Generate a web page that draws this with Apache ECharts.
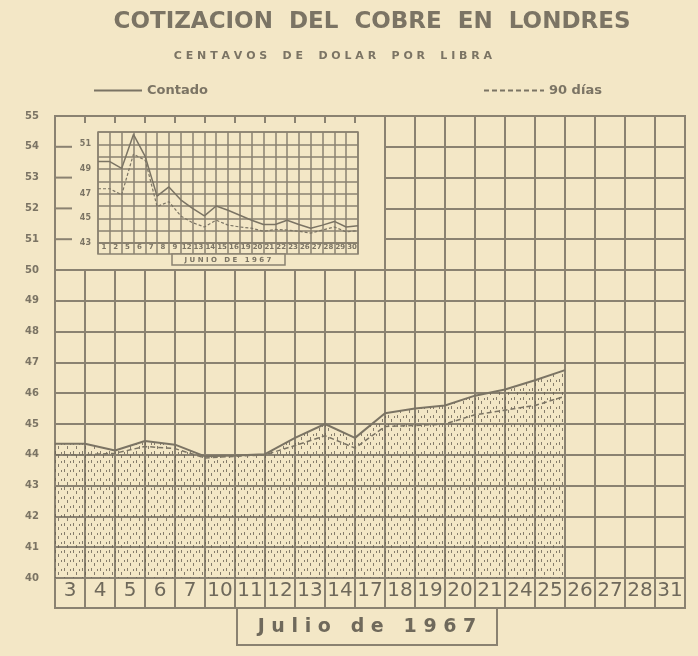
<!DOCTYPE html>
<html>
<head>
	<meta charset="utf-8" />
	<script src="https://cdn.jsdelivr.net/npm/echarts@6/dist/echarts.min.js"></script>
</head>
<body style="margin:0">
	<div id="main" style="width: 698px;height:656px;"></div>

	<script type="text/javascript">
		// julio 1967 (grafico principal)
		var julyDays = ['3', '4', '5', '6', '7', '10', '11', '12', '13', '14', '17', '18', '19', '20', '21', '24', '25', '26', '27', '28', '31'];
		var julyContado = [44.36, 44.14, 44.45, 44.33, 43.95, 43.98, 44.02, 44.55, 45.0, 44.55, 45.35, 45.5, 45.6, 45.92, 46.12, 46.42, 46.75];
		var julyNoventa = [44.0, 44.05, 44.27, 44.2, 43.9, 43.95, 44.0, 44.3, 44.62, 44.22, 44.92, 44.95, 45.0, 45.3, 45.45, 45.6, 45.9];

		// junio 1967 (recuadro)
		var juneDays = ['1', '2', '5', '6', '7', '8', '9', '12', '13', '14', '15', '16', '19', '20', '21', '22', '23', '26', '27', '28', '29', '30'];
		var juneContado = [49.6, 49.05, 51.8, 50.0, 46.8, 47.55, 46.5, 45.8, 45.2, 46.0, 45.65, 45.25, 44.85, 44.5, 44.5, 44.85, 44.5, 44.2, 44.45, 44.75, 44.3, 44.4];
		var juneNoventa = [47.4, 46.9, 50.2, 49.7, 45.95, 46.35, 45.2, 44.65, 44.3, 44.85, 44.45, 44.3, 44.2, 43.95, 44.1, 44.05, 43.95, 43.8, 44.05, 44.3, 43.9, 44.0];

		var BG = '#f3e7c6';
		var INK = '#7b7464';
		var LINE = '#8a8271';

		// the print puts each quote on the right edge of its day cell; line starts flat in the first cell
		function steps(vals) {
			var out = [[0, vals[0]]];
			vals.forEach(function (v, i) { out.push([i + 1, v]); });
			return out;
		}

		function dots() {
			var c = document.createElement('canvas');
			c.width = 9; c.height = 9;
			var g = c.getContext('2d');
			g.fillStyle = 'rgba(105,98,84,0.8)';
			g.fillRect(1, 1, 1, 3);
			g.fillRect(4, 5, 1, 3);
			g.fillRect(7, 2, 1, 2);
			return c;
		}

		// layout
		var gx = 55, gy = 116, gw = 630, gh = 462;
		var colW = gw / julyDays.length, rowH = gh / 15;
		var ix = 98, iy = 132, iw = 260, ih = 111;
		var boxCols = 11, boxRows = 5;   // the inset box hides this much of the main grid

		var legendText = { color: INK, fontWeight: 'bold', fontSize: 13, fontFamily: 'DejaVu Sans' };
		var thick = { show: true, interval: 0, lineStyle: { color: LINE, width: 2 } };
		var thin = { show: true, interval: 0, lineStyle: { color: LINE, width: 1.5 } };
		var off = { show: false };

		// main-grid stubs left showing along the top and left edge of the inset box
		var stubs = [];
		for (var k = 1; k < boxCols; k++) {
			stubs.push({ type: 'line', z: 6, shape: { x1: gx + k * colW, y1: gy, x2: gx + k * colW, y2: gy + 7 }, style: { stroke: LINE, lineWidth: 2 } });
		}
		for (var r = 1; r < boxRows; r++) {
			stubs.push({ type: 'line', z: 6, shape: { x1: gx, y1: gy + r * rowH, x2: gx + 17, y2: gy + r * rowH }, style: { stroke: LINE, lineWidth: 2 } });
		}

		var myChart = echarts.init(document.getElementById('main'));

		// zlevel 1 = the inset chart, drawn above its blank box
		var option = {
			backgroundColor: BG,
			animation: false,
			legend: [
				{ data: ['Contado'], left: 88, top: 79, itemWidth: 48, itemHeight: 10, itemStyle: { opacity: 0 }, textStyle: legendText },
				{ data: ['90 días'], left: 478, top: 79, itemWidth: 60, itemHeight: 10, itemStyle: { opacity: 0 }, textStyle: legendText }
			],
			grid: [
				{ left: gx, top: gy, width: gw, height: gh, show: true, borderColor: LINE, borderWidth: 2 },
				{ left: gx, top: gy + gh, width: gw, height: 30, show: true, borderColor: LINE, borderWidth: 2 },
				{ left: ix, top: iy, width: iw, height: ih, show: true, borderColor: LINE, borderWidth: 1.5, zlevel: 1 },
				{ left: ix, top: iy + ih, width: iw, height: 11, show: true, borderColor: LINE, borderWidth: 1.5, zlevel: 1 }
			],
			xAxis: [
				{ type: 'category', gridIndex: 0, data: julyDays, boundaryGap: true, axisLine: off, axisTick: off, axisLabel: off, splitLine: thick },
				{ type: 'value', gridIndex: 0, min: 0, max: julyDays.length, show: false },
				{ type: 'category', gridIndex: 1, data: julyDays, boundaryGap: true, axisLine: off, axisTick: off, splitLine: thick,
				  axisLabel: { interval: 0, margin: -27, color: '#6f695b', fontSize: 20, fontFamily: 'DejaVu Sans' } },
				{ type: 'category', gridIndex: 2, data: juneDays, boundaryGap: true, zlevel: 1, axisLine: off, axisTick: off, axisLabel: off, splitLine: thin },
				{ type: 'value', gridIndex: 2, min: 0, max: juneDays.length, show: false },
				{ type: 'category', gridIndex: 3, data: juneDays, boundaryGap: true, zlevel: 1, axisLine: off, axisTick: off, splitLine: thin,
				  axisLabel: { interval: 0, margin: -10, color: INK, fontSize: 7, fontWeight: 'bold', fontFamily: 'DejaVu Sans' } }
			],
			yAxis: [
				{ type: 'value', gridIndex: 0, min: 40, max: 55, interval: 1, axisLine: off, axisTick: off, splitLine: thick,
				  axisLabel: { margin: 16, color: INK, fontSize: 10, fontWeight: 'bold', fontFamily: 'DejaVu Sans' } },
				{ type: 'value', gridIndex: 1, show: false },
				{ type: 'value', gridIndex: 2, min: 43, max: 52, interval: 1, zlevel: 1, axisLine: off, axisTick: off, splitLine: thin,
				  axisLabel: { margin: 7, color: INK, fontSize: 8, fontWeight: 'bold', fontFamily: 'DejaVu Sans',
				    formatter: function (v) { return v % 2 ? String(v) : ''; } } },
				{ type: 'value', gridIndex: 3, show: false }
			],
			series: [
				{ name: 'Contado', type: 'line', xAxisIndex: 1, yAxisIndex: 0, data: steps(julyContado), symbol: 'none', z: 3,
				  itemStyle: { color: INK }, lineStyle: { color: INK, width: 2 },
				  areaStyle: { origin: 'start', opacity: 1, color: { image: dots(), repeat: 'repeat' } } },
				{ name: '90 días', type: 'line', xAxisIndex: 1, yAxisIndex: 0, data: steps(julyNoventa), symbol: 'none', z: 4,
				  itemStyle: { color: INK }, lineStyle: { color: INK, width: 1.5, type: [5, 3] } },
				{ name: 'Contado', type: 'line', xAxisIndex: 4, yAxisIndex: 2, data: steps(juneContado), symbol: 'none', zlevel: 1, z: 5,
				  itemStyle: { color: INK }, lineStyle: { color: INK, width: 1.5 } },
				{ name: '90 días', type: 'line', xAxisIndex: 4, yAxisIndex: 2, data: steps(juneNoventa), symbol: 'none', zlevel: 1, z: 5,
				  itemStyle: { color: INK }, lineStyle: { color: INK, width: 1.2, type: [3, 2] } }
			],
			graphic: [
				{ type: 'text', x: 372, y: 22, style: { text: 'COTIZACION  DEL  COBRE  EN  LONDRES', textAlign: 'center', textVerticalAlign: 'middle',
				  font: 'bold 23px "DejaVu Sans"', fill: INK } },
				{ type: 'text', x: 333, y: 56, style: { text: 'C E N T A V O S    D E    D O L A R    P O R    L I B R A', textAlign: 'center', textVerticalAlign: 'middle',
				  font: 'bold 11px "DejaVu Sans"', fill: INK } },
				// blank box of the June inset, over the main grid lines
				{ type: 'rect', z: 5, shape: { x: gx, y: gy, width: colW * boxCols, height: rowH * boxRows }, style: { fill: BG, stroke: LINE, lineWidth: 2 } },
				{ type: 'rect', zlevel: 1, z: 8, shape: { x: 172, y: iy + ih + 11, width: 113, height: 11 }, style: { fill: BG, stroke: LINE, lineWidth: 1.5 } },
				{ type: 'text', zlevel: 1, z: 9, x: 228, y: iy + ih + 17, style: { text: 'J U N I O   D E   1 9 6 7', textAlign: 'center', textVerticalAlign: 'middle',
				  font: 'bold 7px "DejaVu Sans"', fill: INK } },
				{ type: 'rect', shape: { x: 237, y: gy + gh + 30, width: 260, height: 37 }, style: { fill: 'none', stroke: LINE, lineWidth: 2 } },
				{ type: 'text', x: 367, y: gy + gh + 49, style: { text: 'J u l i o   d e   1 9 6 7', textAlign: 'center', textVerticalAlign: 'middle',
				  font: 'bold 19px "DejaVu Sans"', fill: '#6f695b' } }
			].concat(stubs)
		};

		myChart.setOption(option);
	</script>
</body>
</html>
